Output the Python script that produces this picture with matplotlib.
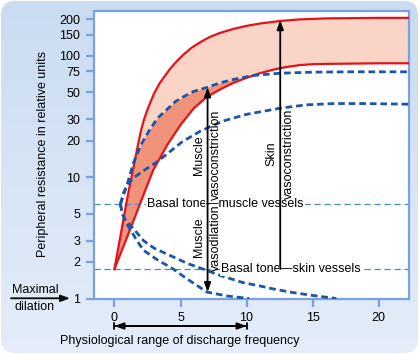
import numpy as np
import matplotlib
matplotlib.use("Agg")
import matplotlib.pyplot as plt
import matplotlib.transforms as mtransforms
from matplotlib.patches import FancyBboxPatch

plt.rcParams['font.family'] = ['Liberation Sans', 'DejaVu Sans']
plt.rcParams['font.size'] = 9

# skin vessels, upper red curve
red_hi_x = [0, 0.5, 1, 1.5, 1.8, 2.0, 2.2, 2.45, 2.7, 3.0, 3.4, 3.8, 4.2, 4.7, 5.2, 5.8, 6.5, 7.2, 8.0, 9.0, 10, 11, 12.5, 14, 16, 18, 20, 22.3]
red_hi_y = [1.75, 3.5, 7, 13, 19, 24, 29, 35, 41, 49, 59, 68, 78, 90, 102, 116, 130, 143, 155, 167, 177, 185, 194, 200, 204, 205, 206, 206]

# lower red curve
red_lo_x = [0, 1, 2, 2.94, 4, 5, 6, 7, 8, 9, 10, 11, 12, 13, 14, 15, 16, 18, 20, 22.3]
red_lo_y = [1.75, 3.3, 6.3, 11.5, 18.5, 27, 37, 46, 53, 60, 66, 72, 77, 81, 84, 85.5, 86, 86.5, 87, 87]

# muscle vessels, blue dashed curves
con_hi_x = [0.45, 0.7, 1.0, 1.42, 2.0, 2.7, 3.3, 3.95, 4.6, 5.2, 6.0, 7.0, 8.0, 9.0, 10.5, 12.5, 15, 18, 22.3]
con_hi_y = [6, 7.2, 9, 13, 18.5, 25, 31, 36, 42, 46, 51, 55, 60, 64, 69, 72, 73.5, 74, 74]

con_lo_x = [0.45, 0.7, 1.0, 1.5, 2.3, 3.1, 3.8, 5.1, 6.5, 8.2, 10, 12.5, 14.5, 16.6, 19, 22.3]
con_lo_y = [6, 7.5, 8.8, 10, 11.5, 13.1, 15, 19.5, 24, 29, 33, 37, 39.5, 40.5, 40.5, 40]

dil_hi_x = [0.45, 0.6, 0.8, 1.05, 1.5, 2.2, 3.0, 4.45, 5.5, 6.7, 8, 9.75, 11, 12, 13.5, 15, 16.8]
dil_hi_y = [6, 5, 4.5, 4.2, 3.7, 3.0, 2.6, 2.2, 1.95, 1.75, 1.55, 1.35, 1.27, 1.2, 1.12, 1.06, 1.0]

dil_lo_x = [0.45, 0.6, 0.8, 1.2, 1.7, 2.2, 3.2, 4.45, 5.5, 7, 8.5, 10.2]
dil_lo_y = [6, 5, 4.4, 3.7, 3.0, 2.5, 2.1, 1.75, 1.45, 1.13, 1.05, 1.0]

muscle_basal = 6.0
skin_basal = 1.75

y_ticks = [1, 2, 3, 5, 10, 20, 30, 50, 75, 100, 150, 200]
x_ticks = [0, 5, 10, 15, 20]

red = '#e3121b'
blue = '#1d55a6'
light = '#7aa0de'

fig = plt.figure(figsize=(4.2, 3.54), dpi=100)
fig.patch.set_facecolor('white')

# rounded light blue panel with a soft gradient
bg = fig.add_axes([0, 0, 1, 1], zorder=-10)
bg.axis('off')
grad = np.linspace(0, 1, 256).reshape(-1, 1)
cmap = matplotlib.colors.LinearSegmentedColormap.from_list('bg', ['#cadcf2', '#e4edf9'])
im = bg.imshow(grad, aspect='auto', cmap=cmap, extent=[0, 1, 0, 1], origin='upper')
panel = FancyBboxPatch((1, 1), 417, 352, boxstyle='round,pad=0,rounding_size=14',
                       transform=mtransforms.IdentityTransform(), facecolor='none', edgecolor='none')
fig.add_artist(panel)
im.set_clip_path(panel)

ax = fig.add_axes([94 / 420, 1 - 298.5 / 354, 315 / 420, 288 / 354])
ax.set_facecolor('white')
ax.set_yscale('log')
ax.set_xlim(-1.55, 22.3)
ax.set_ylim(1, 237)

# fills
xf = np.linspace(0, 22.3, 800)
hi = np.interp(xf, red_hi_x, red_hi_y)
lo = np.interp(xf, red_lo_x, red_lo_y)
cb = np.interp(xf, con_hi_x, con_hi_y, left=1e4)
top = np.minimum(hi, cb)
ax.fill_between(xf, lo, hi, color='#fad5c7', lw=0, zorder=1)
ax.fill_between(xf, lo, top, where=top > lo, color='#f0937a', lw=0, zorder=1.5)

# basal tone lines
for yb in [muscle_basal, skin_basal]:
    ax.axhline(yb, color='#4f86d2', lw=0.9, dashes=(5, 3), zorder=2)

ax.plot(red_hi_x, red_hi_y, color=red, lw=1.6, zorder=3)
ax.plot(red_lo_x, red_lo_y, color=red, lw=1.6, zorder=3)
for xs, ys in [(con_hi_x, con_hi_y), (con_lo_x, con_lo_y), (dil_hi_x, dil_hi_y), (dil_lo_x, dil_lo_y)]:
    ax.plot(xs, ys, color=blue, lw=2, dashes=(2.4, 1.4), zorder=4)

xm = 7.05
xs_ = 12.55

# labels on basal lines, split at the arrows
tb = dict(facecolor='white', edgecolor='none', pad=0.6)
ax.text(xm - 0.1, muscle_basal, 'Basal tone', ha='right', va='center', bbox=tb, zorder=5)
ax.text(xm - 0.1, muscle_basal, '\u2014muscle vessels', ha='left', va='center', bbox=tb, zorder=5)
ax.text(xs_, skin_basal, 'Basal tone', ha='right', va='center', bbox=tb, zorder=5)
ax.text(xs_, skin_basal, '\u2014skin vessels', ha='left', va='center', bbox=tb, zorder=5)

# arrows
ap = dict(arrowstyle='-|>,head_length=0.6,head_width=0.22', color='black', lw=1.3, shrinkA=0, shrinkB=0)
ax.annotate('', xy=(xm, 55), xytext=(xm, muscle_basal), arrowprops=ap, zorder=6)
ax.annotate('', xy=(xm, 1.13), xytext=(xm, muscle_basal), arrowprops=ap, zorder=6)
ax.annotate('', xy=(xs_, 197), xytext=(xs_, skin_basal), arrowprops=ap, zorder=6)

ax.text(xm - 0.63, 15.3, 'Muscle', rotation=90, ha='center', va='center', zorder=6)
ax.text(xm + 0.63, 15.3, 'vasoconstriction', rotation=90, ha='center', va='center', zorder=6)
ax.text(xm - 0.63, 3.2, 'Muscle', rotation=90, ha='center', va='center', zorder=6)
ax.text(xm + 0.63, 3.2, 'vasodilation', rotation=90, ha='center', va='center', zorder=6)
ax.text(xs_ - 0.63, 15.5, 'Skin', rotation=90, ha='center', va='center', zorder=6)
ax.text(xs_ + 0.63, 15.5, 'vasoconstriction', rotation=90, ha='center', va='center', zorder=6)

# axes styling
for s in ax.spines.values():
    s.set_color(light)
    s.set_linewidth(1.6)
ax.set_yticks(y_ticks)
ax.set_yticklabels([str(v) for v in y_ticks])
ax.yaxis.set_minor_locator(matplotlib.ticker.NullLocator())
ax.set_xticks(x_ticks)
ax.tick_params(axis='both', colors=light, labelcolor='black', length=6, width=1.6, labelsize=9, pad=4)

fig.text(43 / 420, 1 - 154 / 354, 'Peripheral resistance in relative units', rotation=90,
         ha='center', va='center', fontsize=9)

# maximal dilation marker
fig.text(35 / 420, 1 - 290 / 354, 'Maximal', ha='center', va='center', fontsize=9)
fig.text(35 / 420, 1 - 307 / 354, 'dilation', ha='center', va='center', fontsize=9)
ax.annotate('', xy=(70 / 420, 1 - 298.3 / 354), xytext=(11 / 420, 1 - 298.3 / 354),
            xycoords='figure fraction', arrowprops=ap)

# physiological range bar
yr = 1 - 326 / 354
rp = dict(arrowstyle='<|-|>,head_length=0.6,head_width=0.22', color='black', lw=1.3, shrinkA=0, shrinkB=0)
ax.annotate('', xy=(10, yr), xytext=(0, yr), xycoords=('data', 'figure fraction'), arrowprops=rp)
bp = dict(arrowstyle='|-|,widthA=0.25,widthB=0.25', color='black', lw=1.3, shrinkA=0, shrinkB=0)
ax.annotate('', xy=(10, yr), xytext=(0, yr), xycoords=('data', 'figure fraction'), arrowprops=bp)
fig.text(180 / 420, 1 - 340.7 / 354, 'Physiological range of discharge frequency',
         ha='center', va='center', fontsize=9)

fig.savefig('out.png', dpi=100)
